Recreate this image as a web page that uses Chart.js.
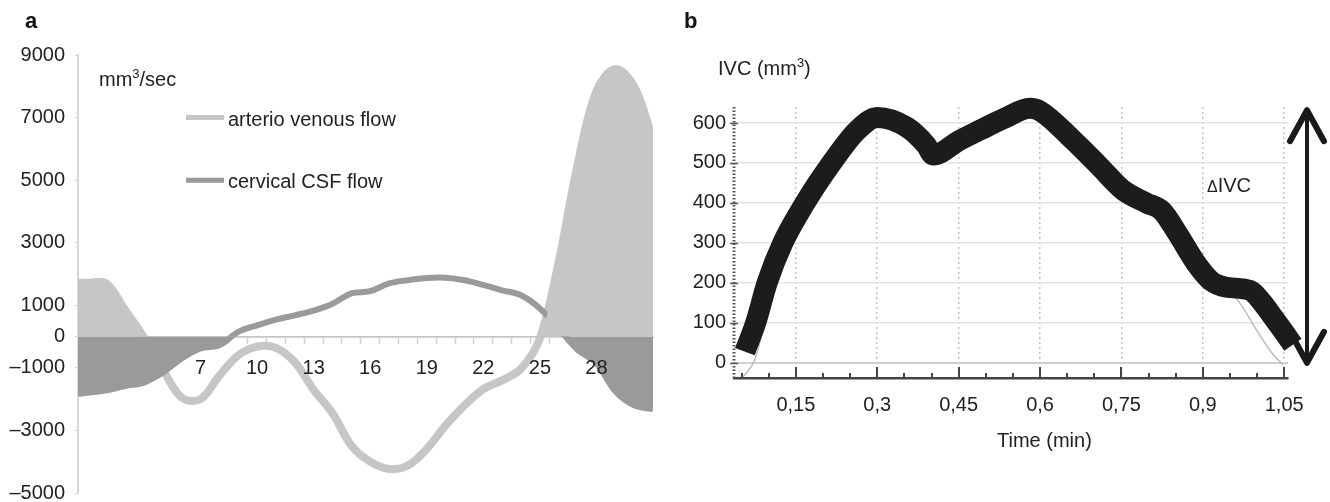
<!DOCTYPE html>
<html>
<head>
<meta charset="utf-8">
<script src="https://cdn.jsdelivr.net/npm/chart.js@4.4.1/dist/chart.umd.min.js"></script>
<style>
  html, body { margin: 0; padding: 0; background: #fff; }
  #wrap { position: relative; width: 1330px; height: 502px; }
  .panel { position: absolute; top: 0; width: 665px; height: 502px; }
  #panelA { left: 0; }
  #panelB { left: 665px; }
</style>
</head>
<body>
<div id="wrap">
  <div class="panel" id="panelA"><canvas id="flowChart" width="665" height="502"></canvas></div>
  <div class="panel" id="panelB"><canvas id="ivcChart" width="665" height="502"></canvas></div>
</div>
<script>
// ---- panel a : flow over the cardiac cycle (frames) ----
const frames = [0.5, 1, 2, 3, 4, 5, 6, 7, 8, 9, 10, 11, 12, 13, 14, 15, 16,
  17, 18, 19, 20, 21, 22, 23, 24, 25, 26, 27, 28, 29, 30, 31];
const arterioVenous = [1720, 1720, 1700, 850, -30, -1050, -1950, -2000, -1250, -600, -320, -360, -820, -1700, -2450,
  -3480, -4000, -4230, -4120, -3590, -2840, -2200, -1680, -1400, -1030, -60, 2400, 5500, 7850, 8550, 8000, 6300];
const cervicalCsf = [-1830, -1800, -1720, -1580, -1470, -1150, -700, -380, -280, 150, 360, 540, 680, 830, 1050,
  1380, 1450, 1700, 1800, 1870, 1880, 1800, 1650, 1480, 1320, 900, 250, -420, -850, -1750, -2200, -2320];
const seriesNames = ['arterio venous flow', 'cervical CSF flow'];
const flowTicks = [9000, 7000, 5000, 3000, 1000, 0, -1000, -3000, -5000];
const frameTicks = [1, 2, 3, 4, 5, 6, 7, 8, 9, 10, 11, 12, 13, 14, 15, 16, 17, 18, 19, 20,
  21, 22, 23, 24, 25, 26, 27, 28, 29, 30];
const frameLabels = [7, 10, 13, 16, 19, 22, 25, 28];

// ---- panel b : intraventricular volume change ----
const ivcTime = [0.056, 0.076, 0.097, 0.126, 0.167, 0.216, 0.262, 0.300, 0.354, 0.390, 0.403,
  0.452, 0.489, 0.535, 0.581, 0.600, 0.661, 0.710, 0.753, 0.796, 0.825, 0.855, 0.887, 0.915,
  0.944, 0.987, 1.010, 1.029, 1.048, 1.066];
const ivcVolume = [28, 100, 200, 300, 400, 500, 580, 614, 590, 545, 520,
  557, 582, 612, 637, 630, 557, 491, 432, 400, 380, 320, 250, 205,
  189, 181, 150, 115, 80, 45];
const rawTime = [0.053, 0.075, 0.126, 0.216, 0.300, 0.403, 0.581, 0.710, 0.796, 0.887, 0.944, 0.968, 1.000, 1.030, 1.048];
const rawVolume = [-35, 10, 300, 500, 614, 520, 637, 491, 400, 250, 185, 150, 80, 20, -5];
const timeTicks = [0.05, 0.1, 0.15, 0.2, 0.25, 0.3, 0.35, 0.4, 0.45, 0.5, 0.55, 0.6, 0.65, 0.7,
  0.75, 0.8, 0.85, 0.9, 0.95, 1.0, 1.05];
const volumeTicks = [0, 100, 200, 300, 400, 500, 600];

const FONT = '"Liberation Sans", Arial, Helvetica, sans-serif';
const avColor = '#c6c6c6';
const csfColor = '#9a9a9a';

Chart.defaults.font.family = FONT;
Chart.defaults.color = '#222';

const toPoints = (xs, ys) => xs.map((x, i) => ({ x: x, y: ys[i] }));
const noPad = (s) => { s.paddingTop = 0; s.paddingBottom = 0; s.paddingLeft = 0; s.paddingRight = 0; };

// texts and legend drawn inside panel a
const flowNotes = {
  id: 'flowNotes',
  afterDraw(chart) {
    const ctx = chart.ctx;
    const y = chart.scales.y;
    ctx.save();
    ctx.fillStyle = '#111';
    ctx.font = 'bold 22px ' + FONT;
    ctx.fillText('a', 25, 28);

    ctx.fillStyle = '#222';
    ctx.font = '20px ' + FONT;
    ctx.fillText('mm', 99, 86);
    let x = 99 + ctx.measureText('mm').width;
    ctx.font = '13px ' + FONT;
    ctx.fillText('3', x, 78);
    x += ctx.measureText('3').width;
    ctx.font = '20px ' + FONT;
    ctx.fillText('/sec', x, 86);

    // legend rows at 7000 and 5000
    const rows = [[seriesNames[0], avColor, 7000], [seriesNames[1], csfColor, 5000]];
    rows.forEach(([name, color, v]) => {
      const py = y.getPixelForValue(v);
      ctx.strokeStyle = color;
      ctx.lineWidth = 5;
      ctx.beginPath();
      ctx.moveTo(186, py);
      ctx.lineTo(224, py);
      ctx.stroke();
      ctx.fillStyle = '#222';
      ctx.font = '20px ' + FONT;
      ctx.fillText(name, 228, py + 8);
    });
    ctx.restore();
  }
};

const bend = 0.35;

const flowData = {
  datasets: [
    { // arterio venous fill (above zero), on top
      label: seriesNames[0] + ' fill',
      data: toPoints(frames, arterioVenous),
      borderWidth: 0,
      borderColor: 'transparent',
      pointRadius: 0,
      tension: bend,
      fill: { target: 'origin', above: avColor, below: 'transparent' },
      order: 0
    },
    {
      label: seriesNames[1],
      data: toPoints(frames, cervicalCsf),
      borderColor: csfColor,
      borderWidth: 6,
      pointRadius: 0,
      tension: bend,
      fill: false,
      order: 1
    },
    { // cervical CSF fill (below zero)
      label: seriesNames[1] + ' fill',
      data: toPoints(frames, cervicalCsf),
      borderWidth: 0,
      borderColor: 'transparent',
      pointRadius: 0,
      tension: bend,
      fill: { target: 'origin', above: 'transparent', below: csfColor },
      order: 2
    },
    {
      label: seriesNames[0],
      data: toPoints(frames, arterioVenous),
      borderColor: avColor,
      borderWidth: 8,
      pointRadius: 0,
      tension: bend,
      fill: false,
      order: 3
    }
  ]
};

const flowChart = new Chart(document.getElementById('flowChart'), {
  type: 'line',
  data: flowData,
  options: {
    responsive: false,
    animation: false,
    layout: { padding: { top: 55, bottom: 9, left: 0, right: 12 } },
    plugins: { legend: { display: false }, tooltip: { enabled: false } },
    scales: {
      x: {
        type: 'linear',
        position: { y: 0 },
        min: 0.5,
        max: 31,
        afterFit: noPad,
        afterBuildTicks: (s) => { s.ticks = frameTicks.map(v => ({ value: v })); },
        ticks: {
          z: 1,
          autoSkip: false,
          maxRotation: 0,
          padding: 14,
          font: { size: 20 },
          callback: (v) => (frameLabels.includes(v) ? String(v) : '')
        },
        grid: { drawOnChartArea: false, offset: true, tickLength: 6, tickColor: '#d3d3d3', tickWidth: 1.5 },
        border: { color: '#d5d5d5', width: 2 }
      },
      y: {
        min: -5000,
        max: 9000,
        afterFit: (s) => { s.width = 78; noPad(s); },
        afterBuildTicks: (s) => { s.ticks = flowTicks.map(v => ({ value: v })); },
        ticks: {
          padding: 10,
          font: { size: 20 },
          callback: (v) => (v < 0 ? '\u2013' + Math.abs(v) : String(v))
        },
        grid: { drawOnChartArea: false, tickLength: 3, tickColor: '#d3d3d3' },
        border: { color: '#d9d9d9', width: 2 }
      }
    }
  },
  plugins: [flowNotes]
});

// texts, axis details and the delta arrow for panel b
const ivcNotes = {
  id: 'ivcNotes',
  afterDraw(chart) {
    const ctx = chart.ctx;
    const area = chart.chartArea;
    const xs = chart.scales.x;
    const ys = chart.scales.y;
    ctx.save();

    // dotted y axis with small ticks
    ctx.strokeStyle = '#555';
    ctx.lineWidth = 3;
    ctx.setLineDash([1.5, 2]);
    ctx.beginPath();
    ctx.moveTo(area.left, area.top);
    ctx.lineTo(area.left, area.bottom);
    ctx.stroke();
    ctx.setLineDash([]);
    ctx.lineWidth = 1.5;
    volumeTicks.forEach(v => {
      const py = Math.round(ys.getPixelForValue(v)) + 0.5;
      ctx.beginPath();
      ctx.moveTo(area.left - 4, py);
      ctx.lineTo(area.left + 4, py);
      ctx.stroke();
    });

    // inward x ticks
    ctx.strokeStyle = '#444';
    ctx.lineWidth = 2;
    timeTicks.forEach(t => {
      const major = Math.round(t * 100) % 15 === 0;
      const px = Math.round(xs.getPixelForValue(t));
      ctx.beginPath();
      ctx.moveTo(px, area.bottom);
      ctx.lineTo(px, area.bottom - (major ? 11 : 5));
      ctx.stroke();
    });

    ctx.fillStyle = '#111';
    ctx.font = 'bold 22px ' + FONT;
    ctx.fillText('b', 19, 28);

    ctx.fillStyle = '#222';
    ctx.font = '20px ' + FONT;
    ctx.fillText('IVC (mm', 53, 75);
    let x = 53 + ctx.measureText('IVC (mm').width;
    ctx.font = '13px ' + FONT;
    ctx.fillText('3', x, 67);
    x += ctx.measureText('3').width;
    ctx.font = '20px ' + FONT;
    ctx.fillText(')', x, 75);

    ctx.fillText('Time (min)', 332, 447);

    ctx.font = '16px ' + FONT;
    ctx.fillText('\u0394', 542, 192);
    const dx = ctx.measureText('\u0394').width;
    ctx.font = '20px ' + FONT;
    ctx.fillText('IVC', 542 + dx, 192);

    // double arrow from max volume to zero
    const ax = area.right + 19;
    const top = ys.getPixelForValue(Math.max(...ivcVolume));
    const bottom = ys.getPixelForValue(0) + 2;
    ctx.strokeStyle = '#1a1a1a';
    ctx.lineWidth = 4;
    ctx.lineCap = 'round';
    ctx.lineJoin = 'round';
    ctx.beginPath();
    ctx.moveTo(ax, top + 2);
    ctx.lineTo(ax, bottom - 2);
    ctx.stroke();
    ctx.lineWidth = 6;
    ctx.beginPath();
    ctx.moveTo(ax - 17, top + 33);
    ctx.lineTo(ax, top + 2);
    ctx.lineTo(ax + 17, top + 33);
    ctx.moveTo(ax - 17, bottom - 33);
    ctx.lineTo(ax, bottom - 2);
    ctx.lineTo(ax + 17, bottom - 33);
    ctx.stroke();
    ctx.restore();
  }
};

const ivcChart = new Chart(document.getElementById('ivcChart'), {
  type: 'line',
  data: {
    datasets: [
      {
        label: 'IVC',
        data: toPoints(ivcTime, ivcVolume),
        borderColor: '#1c1c1c',
        borderWidth: 21,
        pointRadius: 0,
        cubicInterpolationMode: 'monotone',
        fill: false,
        clip: 30,
        order: 0
      },
      {
        label: 'IVC raw',
        data: toPoints(rawTime, rawVolume),
        borderColor: '#bdbdbd',
        borderWidth: 1.5,
        pointRadius: 0,
        cubicInterpolationMode: 'monotone',
        fill: false,
        order: 1
      }
    ]
  },
  options: {
    responsive: false,
    animation: false,
    layout: { padding: { top: 107, bottom: 0, left: 0, right: 42 } },
    plugins: { legend: { display: false }, tooltip: { enabled: false } },
    scales: {
      x: {
        type: 'linear',
        min: 0.036,
        max: 1.057,
        afterFit: (s) => { s.height = 124; },
        afterBuildTicks: (s) => { s.ticks = timeTicks.map(v => ({ value: v })); },
        ticks: {
          autoSkip: false,
          maxRotation: 0,
          padding: 15,
          font: { size: 20 },
          callback: (v) => (Math.round(v * 100) % 15 === 0 ? String(Math.round(v * 100) / 100).replace('.', ',') : '')
        },
        grid: {
          drawTicks: false,
          color: (c) => (c.tick && Math.round(c.tick.value * 100) % 15 === 0 ? '#c4c4c4' : 'transparent'),
          lineWidth: 1.5
        },
        border: { color: '#444', width: 2.5, dash: [2, 3] }
      },
      y: {
        min: -38,
        max: 640,
        afterFit: (s) => { s.width = 69; },
        afterBuildTicks: (s) => { s.ticks = volumeTicks.map(v => ({ value: v })); },
        ticks: { padding: 8, font: { size: 20 } },
        grid: {
          drawTicks: false,
          color: (c) => (c.tick && c.tick.value === 0 ? '#cfcfcf' : '#e3e3e3'),
          lineWidth: (c) => (c.tick && c.tick.value === 0 ? 2 : 1.5)
        },
        border: { display: false }
      }
    }
  },
  plugins: [ivcNotes]
});
</script>
</body>
</html>
